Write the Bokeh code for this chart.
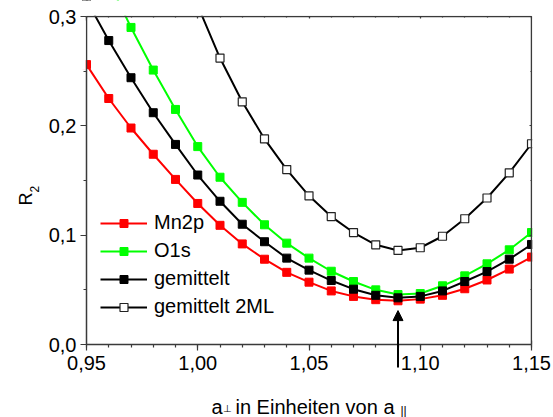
import math
from bokeh.plotting import figure
from bokeh.models import (Range1d, FixedTicker, CustomJSTickFormatter, LinearAxis,
                          Legend, LegendItem, Label, Arrow, NormalHead, BoxAnnotation)
from bokeh.embed import file_html
from bokeh.resources import INLINE

# ---- data ----
x_vals = [0.95, 0.96, 0.97, 0.98, 0.99, 1.00, 1.01, 1.02, 1.03, 1.04, 1.05,
          1.06, 1.07, 1.08, 1.09, 1.10, 1.11, 1.12, 1.13, 1.14, 1.15]
mn2p = [0.256, 0.225, 0.198, 0.174, 0.151, 0.129, 0.109, 0.092, 0.078, 0.066, 0.057,
        0.049, 0.044, 0.041, 0.040, 0.0415, 0.045, 0.051, 0.059, 0.069, 0.080]
o1s = [0.378, 0.332, 0.290, 0.251, 0.215, 0.181, 0.153, 0.130, 0.1095, 0.0927, 0.079,
       0.067, 0.0576, 0.050, 0.0457, 0.0466, 0.0537, 0.0628, 0.0738, 0.0866, 0.1024]
gemittelt = [0.315, 0.278, 0.244, 0.212, 0.183, 0.155, 0.131, 0.110, 0.094, 0.079, 0.068,
             0.0585, 0.0506, 0.045, 0.0427, 0.044, 0.049, 0.0576, 0.0667, 0.078, 0.0915]
x_2ml = [1.00, 1.01, 1.02, 1.03, 1.04, 1.05, 1.06, 1.07, 1.08, 1.09, 1.10,
         1.11, 1.12, 1.13, 1.14, 1.15]
gemittelt_2ml = [0.31, 0.262, 0.222, 0.188, 0.160, 0.136, 0.117, 0.1024, 0.0912, 0.086, 0.0885,
                 0.099, 0.115, 0.134, 0.157, 0.1836]
series_names = ["Mn2p", "O1s", "gemittelt", "gemittelt 2ML"]

x_major_ticks = [0.95, 1.00, 1.05, 1.10, 1.15]
x_minor_ticks = x_vals
y_major_ticks = [0.0, 0.1, 0.2, 0.3]
y_minor_ticks = [0.05, 0.15, 0.25]

arrow_x = 1.09
arrow_tip_y = 0.031
arrow_tail_y = -0.021

FONT = "Liberation Sans"
AX = "#3a3a3a"
X0, X1, Y0, Y1 = 0.95, 1.15, 0.0, 0.3
W, H = 553, 417
FL, FR, FT, FB = 86, 531, 16, 344   # the plot box in window pixels

# pixel -> data helpers (layout only)
def px2x(cx):
    return X0 + (cx - FL) * (X1 - X0) / (FR - FL)

def py2y(cy):
    return Y0 + (FB - cy) * (Y1 - Y0) / (FB - FT)

# The drawing frame covers the whole window so that tick labels, axis titles and
# the arrow tail outside the box are not clipped; the box is drawn by four
# bounded axes, and white masks cut the curves at the box edges.
p = figure(width=W, height=H, output_backend="svg", toolbar_location=None,
           x_range=Range1d(px2x(0), px2x(W)), y_range=Range1d(py2y(H), py2y(0)),
           min_border_left=0, min_border_right=0, min_border_top=0, min_border_bottom=0,
           x_axis_location=None, y_axis_location=None)
p.background_fill_color = "white"
p.border_fill_color = "white"
p.outline_line_color = None
p.xgrid.visible = False
p.ygrid.visible = False

xt = FixedTicker(ticks=x_major_ticks, minor_ticks=x_minor_ticks)
yt = FixedTicker(ticks=y_major_ticks, minor_ticks=y_minor_ticks)
xf = CustomJSTickFormatter(code="return tick.toFixed(2).replace('.', ',');")
yf = CustomJSTickFormatter(code="return tick.toFixed(1).replace('.', ',');")
blank = CustomJSTickFormatter(code="return '';")

def style(ax, labels=True):
    ax.axis_line_color = AX
    ax.axis_line_width = 1.5
    ax.major_tick_line_color = AX
    ax.minor_tick_line_color = AX
    ax.major_tick_line_width = 1.2
    ax.minor_tick_line_width = 1.2
    ax.major_label_text_font = FONT
    ax.major_label_text_color = "black"
    if labels:
        ax.major_label_text_font_size = "20px"
        ax.major_tick_out = 6
        ax.major_tick_in = 0
        ax.minor_tick_out = 3
        ax.minor_tick_in = 0
    else:
        ax.major_label_text_font_size = "0px"
        ax.major_tick_out = 0
        ax.major_tick_in = 2
        ax.minor_tick_out = 0
        ax.minor_tick_in = 1

LW = 2
MS = 8
r_l1 = p.line(x_vals, mn2p, line_color="#ff0000", line_width=LW)
r_m1 = p.scatter(x_vals, mn2p, marker="square", size=MS, fill_color="#ff0000", line_color="#ff0000")
r_l2 = p.line(x_vals, o1s, line_color="#00ff00", line_width=LW)
r_m2 = p.scatter(x_vals, o1s, marker="square", size=MS, fill_color="#00ff00", line_color="#00ff00")
r_l3 = p.line(x_vals, gemittelt, line_color="black", line_width=LW)
r_m3 = p.scatter(x_vals, gemittelt, marker="square", size=MS, fill_color="black", line_color="black")
r_l4 = p.line(x_2ml, gemittelt_2ml, line_color="black", line_width=LW)
r_m4 = p.scatter(x_2ml, gemittelt_2ml, marker="square", size=MS, fill_color="white", line_color="#222222", line_width=1.2)

# white masks (drawn last, clear of the axes and texts): curves are cut at the box edges
mask = dict(fill_color="white", fill_alpha=1, line_alpha=0, level="overlay")
p.add_layout(BoxAnnotation(left=px2x(FL - 6), right=px2x(W), bottom=py2y(FT - 0.8), top=py2y(0), **mask))
p.add_layout(BoxAnnotation(left=px2x(FR + 0.8), right=px2x(W), bottom=py2y(FB - 4), top=py2y(0), **mask))
p.add_layout(BoxAnnotation(left=px2x(FL - 6), right=px2x(FL - 0.8), bottom=py2y(68.8), top=py2y(FT + 4), **mask))

xb = LinearAxis(ticker=xt, formatter=xf, fixed_location=Y0, bounds=(X0, X1))
style(xb)
xb.major_label_standoff = 5
p.add_layout(xb, "below")
yl = LinearAxis(ticker=yt, formatter=yf, fixed_location=X0, bounds=(Y0, Y1))
style(yl)
yl.major_label_standoff = 4
p.add_layout(yl, "left")
xtop = LinearAxis(ticker=xt, formatter=blank, fixed_location=Y1, bounds=(X0, X1))
style(xtop, labels=False)
p.add_layout(xtop, "above")
yr = LinearAxis(ticker=yt, formatter=blank, fixed_location=X1, bounds=(Y0, Y1))
style(yr, labels=False)
p.add_layout(yr, "right")

legend = Legend(items=[
    LegendItem(label=series_names[0], renderers=[r_l1, r_m1]),
    LegendItem(label=series_names[1], renderers=[r_l2, r_m2]),
    LegendItem(label=series_names[2], renderers=[r_l3, r_m3]),
    LegendItem(label=series_names[3], renderers=[r_l4, r_m4]),
], location=(100, H - 318))
legend.background_fill_alpha = 0
legend.border_line_alpha = 0
legend.padding = 0
legend.margin = 0
legend.spacing = 5
legend.glyph_width = 47
legend.glyph_height = 20
legend.label_height = 20
legend.label_standoff = 7
legend.label_text_font = FONT
legend.label_text_font_size = "20px"
legend.label_text_color = "black"
p.add_layout(legend, "center")

p.add_layout(Arrow(end=NormalHead(size=10, fill_color="black", line_color="black", line_width=1),
                   x_start=arrow_x, y_start=arrow_tail_y, x_end=arrow_x, y_end=arrow_tip_y,
                   line_color="black", line_width=2))

def lab(text, cx, cy, size, angle=0.0):
    p.add_layout(Label(x=px2x(cx), y=py2y(cy), text=text,
                       text_font=FONT, text_font_size=size, text_color="black",
                       text_align="left", text_baseline="alphabetic", angle=angle))

lab("a", 211, 406, "20px")
lab("\u22a5", 222, 408, "10px")
lab("in Einheiten von a", 235, 406, "20px")
lab("||", 400, 410, "12px")
lab("R", 25.5, 205, "18px", math.pi / 2)
lab("2", 33.5, 192, "12px", math.pi / 2)

open("out.html", "w").write(file_html(p, INLINE))
